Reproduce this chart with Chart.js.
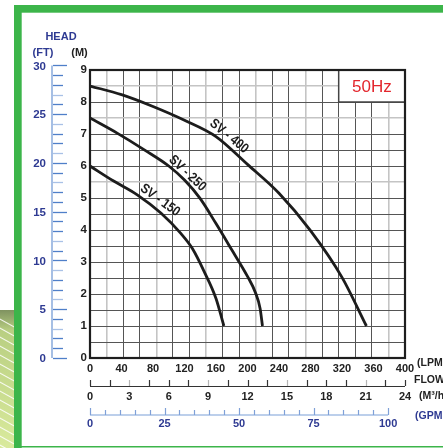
<!DOCTYPE html>
<html><head><meta charset="utf-8">
<script src="https://cdn.jsdelivr.net/npm/chart.js@4"></script>
<style>html,body{margin:0;padding:0;background:#fff;overflow:hidden}#wrap{width:443px;height:448px;position:relative}</style>
</head><body><div id="wrap"><canvas id="c" width="443" height="448"></canvas></div>
<script>
// ---- data (flow in LPM, head in M) ----
const flow400 = [0, 40, 80, 120, 160, 200, 240, 280, 320, 351];
const head400 = [8.5, 8.23, 7.86, 7.43, 6.92, 6.05, 5.15, 3.98, 2.52, 1.0];
const flow250 = [0, 35, 70, 100, 120, 140, 160, 180, 200, 210, 216, 219];
const head250 = [7.5, 7.02, 6.49, 6.0, 5.56, 4.98, 4.2, 3.38, 2.55, 2.05, 1.55, 1.0];
const flow150 = [0, 30, 60, 90, 115, 130, 145, 160, 170];
const head150 = [6.0, 5.53, 5.1, 4.53, 3.9, 3.42, 2.7, 1.86, 1.0];
const seriesNames = ['SV - 400', 'SV - 250', 'SV - 150'];
const ftLabels = [0, 5, 10, 15, 20, 25, 30];
const m3hLabels = [0, 3, 6, 9, 12, 15, 18, 21, 24];
const gpmLabels = [0, 25, 50, 75, 100];
const freqLabel = '50Hz';

const pts = (xs, ys) => xs.map((x, i) => ({x, y: ys[i]}));
const NAVY = '#2e3a92';
const FONT = "'Liberation Sans', Arial, sans-serif";
const lightCols = new Set([1, 4, 7, 10, 13, 18]);
const lightRows = new Set([8.5, 7.5, 5.5]);

const decor = {
  id: 'decor',
  beforeDraw(chart) {
    const c = chart.ctx;
    c.save();
    c.fillStyle = '#fff';
    c.fillRect(0, 0, chart.width, chart.height);
    // left bottom stripes
    c.save();
    c.beginPath(); c.rect(0, 310, 14, 138); c.clip();
    const g = c.createLinearGradient(0, 310, 0, 448);
    g.addColorStop(0, '#7f9260'); g.addColorStop(0.15, '#b9cf82'); g.addColorStop(1, '#d9ea9c');
    c.fillStyle = g; c.fillRect(0, 310, 14, 138);
    c.strokeStyle = 'rgba(255,255,255,0.85)'; c.lineWidth = 1.2;
    for (let k = 0; k < 16; k++) {
      c.beginPath(); c.moveTo(-2, 318 + k * 9); c.lineTo(16, 328 + k * 9); c.stroke();
    }
    c.restore();
    // green frame
    c.fillStyle = '#3cb54a';
    c.fillRect(14, 5, 429, 7.7);
    c.fillRect(14, 5, 7.7, 443);
    c.fillRect(14, 446, 429, 1.5);
    c.restore();
  },
  afterDraw(chart) {
    const c = chart.ctx, a = chart.chartArea;
    const sx = chart.scales.x, sy = chart.scales.y, sg = chart.scales.xg;
    c.save();
    // 50Hz box
    const bx = sg.getPixelForValue(15), by = sy.getPixelForValue(8);
    c.fillStyle = '#fff';
    c.fillRect(bx, a.top, a.right - bx, by - a.top);
    c.strokeStyle = '#444'; c.lineWidth = 1.5;
    c.strokeRect(bx, a.top, a.right - bx, by - a.top);
    c.fillStyle = '#e3262d';
    c.font = "17px " + FONT;
    c.textAlign = 'center'; c.textBaseline = 'middle';
    c.fillText(freqLabel, (bx + a.right) / 2, (a.top + by) / 2 + 1);
    // chart border
    c.strokeStyle = '#1e1e1e'; c.lineWidth = 2.2;
    c.strokeRect(a.left, a.top, a.right - a.left, a.bottom - a.top);

    // FT axis
    const fy = ft => sy.getPixelForValue(ft * 0.3048);
    c.strokeStyle = '#a6bfe4'; c.lineWidth = 2;
    c.beginPath(); c.moveTo(52, fy(30)); c.lineTo(52, fy(0)); c.stroke();
    for (let ft = 0; ft <= 30; ft++) {
      const yy = Math.round(fy(ft)) + 0.5;
      const major = ft % 5 === 0;
      c.strokeStyle = (ft % 3 === 0 && !major) ? '#a9c1e6' : '#4f7fc9';
      c.lineWidth = 1.3;
      c.beginPath(); c.moveTo(53, yy); c.lineTo(major ? 67 : 63, yy); c.stroke();
    }
    c.fillStyle = NAVY; c.font = "bold 11.5px " + FONT;
    c.textAlign = 'right'; c.textBaseline = 'middle';
    ftLabels.forEach(ft => c.fillText(String(ft), 46, fy(ft) + 1));

    // titles
    c.textAlign = 'center';
    c.font = "bold 11px " + FONT;
    c.fillStyle = NAVY;
    c.fillText('HEAD', 61, 37);
    c.fillText('(FT)', 43, 53);
    c.fillStyle = '#222';
    c.fillText('(M)', 79.5, 53);

    // M3/H axis
    const mx = v => sx.getPixelForValue(v * 1000 / 60);
    const yM = 386;
    c.strokeStyle = '#333'; c.lineWidth = 1.2;
    c.beginPath(); c.moveTo(mx(0), yM + 0.5); c.lineTo(mx(24), yM + 0.5); c.stroke();
    for (let v = 0; v <= 24.001; v += 1.5) {
      const xx = Math.round(mx(v)) + 0.5;
      c.strokeStyle = (Math.round(v / 1.5) % 4 === 2) ? '#b5b5b5' : '#333';
      c.beginPath(); c.moveTo(xx, yM); c.lineTo(xx, yM - 6); c.stroke();
    }
    c.fillStyle = '#222'; c.font = "bold 11px " + FONT;
    c.textAlign = 'center';
    m3hLabels.forEach(v => c.fillText(String(v), mx(v), 397));

    // GPM axis
    const gx = v => sx.getPixelForValue(v * 3.785);
    const yG = 415;
    c.strokeStyle = '#a6bfe4'; c.lineWidth = 1.5;
    c.beginPath(); c.moveTo(gx(0), yG); c.lineTo(gx(100), yG); c.stroke();
    c.strokeStyle = '#7fa0d8'; c.lineWidth = 1.2;
    for (let v = 0; v <= 100; v += 5) {
      const xx = Math.round(gx(v)) + 0.5;
      c.beginPath(); c.moveTo(xx, yG); c.lineTo(xx, yG - (v % 25 === 0 ? 7 : 5)); c.stroke();
    }
    c.fillStyle = NAVY;
    gpmLabels.forEach(v => c.fillText(String(v), gx(v), 424));

    // unit labels at right
    c.textAlign = 'left';
    c.font = "bold 10.5px " + FONT;
    c.fillStyle = '#222';
    c.fillText('(LPM', 417, 363);
    c.fillText('FLOW', 414, 380);
    c.fillText('(M\u00B3/h', 419, 396);
    c.fillStyle = NAVY;
    c.fillText('(GPM', 415, 416);

    // curve labels
    const lab = [[176.5, 6.93, 39], [123.8, 5.77, 43], [88.9, 4.93, 36]];
    c.fillStyle = '#1c1c1c';
    c.font = "bold 13px " + FONT;
    c.textAlign = 'center'; c.textBaseline = 'middle';
    lab.forEach((l, i) => {
      c.save();
      c.translate(sx.getPixelForValue(l[0]), sy.getPixelForValue(l[1]));
      c.rotate(l[2] * Math.PI / 180);
      c.scale(0.9, 1.05);
      c.fillText(seriesNames[i], 0, 0);
      c.restore();
    });
    c.restore();
  }
};

const ds = (name, xs, ys) => ({
  label: name, data: pts(xs, ys), borderColor: '#1c1c1c', borderWidth: 2.8,
  pointRadius: 0, fill: false, cubicInterpolationMode: 'monotone', tension: 0.4
});

new Chart(document.getElementById('c'), {
  type: 'line',
  data: { datasets: [ds(seriesNames[0], flow400, head400), ds(seriesNames[1], flow250, head250), ds(seriesNames[2], flow150, head150)] },
  options: {
    responsive: false, animation: false, devicePixelRatio: 1,
    layout: { padding: { left: 60, right: 38, top: 70, bottom: 70 } },
    plugins: { legend: { display: false }, tooltip: { enabled: false } },
    scales: {
      x: {
        type: 'linear', min: 0, max: 400, position: 'bottom',
        ticks: { stepSize: 40, color: '#222', font: { family: FONT, size: 11, weight: 'bold' }, padding: 4, maxRotation: 0, autoSkip: false },
        grid: { display: false, drawTicks: false }, border: { display: false },
        afterFit(s) { s.height = 20; }
      },
      xg: {
        type: 'linear', min: 0, max: 19, position: 'top',
        ticks: { display: false, stepSize: 1 },
        grid: { drawTicks: false,
          color: c => lightCols.has(c.tick.value) ? '#c4c4c4' : '#555',
          lineWidth: c => lightCols.has(c.tick.value) ? 1.6 : 1 },
        border: { display: false },
        afterFit(s) { s.height = 0; }
      },
      y: {
        type: 'linear', min: 0, max: 9,
        ticks: { stepSize: 0.5, autoSkip: false, padding: 3, color: '#222',
          font: { family: FONT, size: 11.5, weight: 'bold' },
          callback: v => Number.isInteger(v) ? String(v) : '' },
        grid: { drawTicks: false,
          color: c => lightRows.has(c.tick.value) ? '#c4c4c4' : '#555',
          lineWidth: c => lightRows.has(c.tick.value) ? 1.6 : 1 },
        border: { display: false },
        afterFit(s) { s.width = 30; }
      }
    }
  },
  plugins: [decor]
});
</script></body></html>
